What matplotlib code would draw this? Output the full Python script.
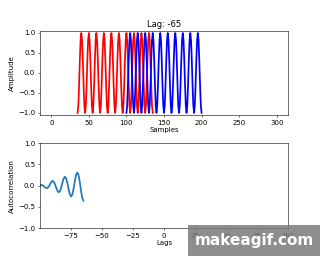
import matplotlib
matplotlib.use('Agg')
import matplotlib.pyplot as plt
from matplotlib.patches import Rectangle

cycle = [-1.0, -0.81, -0.31, 0.31, 0.81, 1.0, 0.81, 0.31, -0.31, -0.81]
signal = cycle * 10 + [-1.0]

blue_start = 100
lag = -65

# autocorrelation values for lags -100 .. -65
acf_lags = list(range(-100, -64))
acf_vals = [0.010, 0.016, 0.009, -0.012, -0.040, -0.059, -0.056, -0.024, 0.028, 0.080,
            0.109, 0.096, 0.040, -0.043, -0.120, -0.158, -0.136, -0.055, 0.058, 0.160,
            0.208, 0.176, 0.070, -0.073, -0.200, -0.257, -0.216, -0.086, 0.089, 0.240,
            0.307, 0.256, 0.101, -0.104, -0.280, -0.356]

blue_x = [blue_start + i for i in range(len(signal))]
red_x = [blue_start + lag + i for i in range(len(signal))]

fig = plt.figure(figsize=(6.4, 5.12), dpi=50)

ax1 = fig.add_axes([0.125, 0.551, 0.775, 0.328])
ax1.plot(red_x, signal, color='r', lw=2.5)
ax1.plot(blue_x, signal, color='b', lw=2.5)
ax1.set_xlim(-15, 315)
ax1.set_ylim(-1.05, 1.05)
ax1.set_title('Lag: %d' % lag)
ax1.set_xlabel('Samples', labelpad=2)
ax1.set_ylabel('Amplitude')

ax2 = fig.add_axes([0.125, 0.109, 0.775, 0.332])
ax2.plot(acf_lags, acf_vals, lw=2.5)
ax2.set_xlim(-100, 100)
ax2.set_ylim(-1, 1)
ax2.set_xticks([-75, -50, -25, 0, 25, 50, 75, 100])
ax2.set_xlabel('Lags', labelpad=2)
ax2.set_ylabel('Autocorrelation')

# gif watermark
fig.patches.append(Rectangle((0.5875, 0.0), 0.4125, 0.121, transform=fig.transFigure,
                             fc='#7a7a7a', ec='none', alpha=0.85, zorder=5))
fig.text(0.794, 0.059, 'makeagif.com', color='white', fontsize=22, fontweight='bold',
         ha='center', va='center', zorder=6)

fig.savefig('out.png', dpi=50)
